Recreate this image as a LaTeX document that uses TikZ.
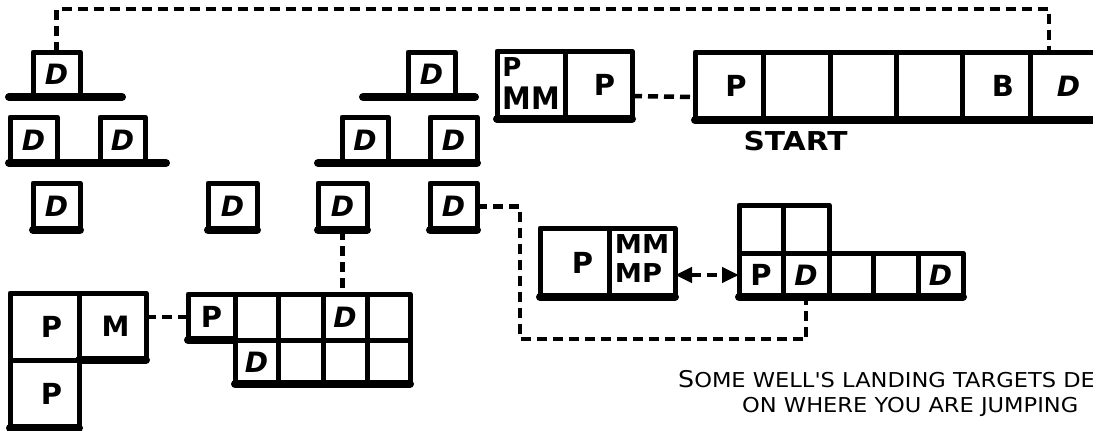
\documentclass[tikz,border=0pt]{standalone}
\usepackage{fontspec}
\usetikzlibrary{arrows.meta}
\newfontfamily\lblfont{DejaVu Sans}
\newfontfamily\capfont{DejaVu Sans}
\newcommand\LD{{\lblfont\fontsize{28}{28}\selectfont\bfseries\itshape D}}
\newcommand\LP{{\lblfont\fontsize{29}{29}\selectfont\bfseries P}}
\newcommand\LM{{\lblfont\fontsize{28}{28}\selectfont\bfseries M}}
\newcommand\LB{{\lblfont\fontsize{29}{29}\selectfont\bfseries B}}
\newcommand\sh[2]{\hspace*{#1pt}#2}
\newcommand\mkcell[6]{\node[cell, minimum width={(#4-#2)*1pt}, minimum height={(#5-#3)*1pt}] (#1) at ({(#2+#4)/2},{(#3+#5)/2}) {#6};}
\begin{document}
\begin{tikzpicture}[x=1pt,y=-1pt,
  cell/.style={draw, line width=5pt, inner sep=0pt, outer sep=0pt, line join=round},
  bar/.style={line width=8pt, line cap=round},
  dashline/.style={line width=4.5pt, dash pattern=on 10pt off 6pt}
]
\fill[white] (0,0) rectangle (1093,431);
\useasboundingbox (0,0) rectangle (1093,431);

% left pyramid
\mkcell{a1}{33}{52}{80}{97}{\LD}
\mkcell{a2}{10}{117}{57}{163}{\LD}
\mkcell{a3}{100}{117}{145}{163}{\LD}
\mkcell{a4}{33}{183}{80}{230}{\LD}
% right pyramid
\mkcell{b1}{408}{52}{455}{97}{\LD}
\mkcell{b2}{342}{117}{388}{163}{\LD}
\mkcell{b3}{430}{117}{477}{163}{\LD}
\mkcell{c1}{208}{183}{257}{230}{\LD}
\mkcell{c2}{318}{183}{367}{230}{\LD}
\mkcell{c3}{430}{183}{477}{230}{\LD}

% top row
\mkcell{e1}{497}{51}{565}{119}{\lblfont\bfseries\begin{tabular}{@{}l@{}}\fontsize{26}{26}\selectfont P\\[7pt]\fontsize{31}{31}\selectfont\scalebox{0.93}[1]{MM}\end{tabular}}
\mkcell{e2}{565}{51}{632}{119}{\sh{12}{\LP}}
\mkcell{f1}{695}{52}{763}{120}{\sh{14}{\LP}}
\mkcell{f2}{763}{52}{830}{120}{}
\mkcell{f3}{830}{52}{896}{120}{}
\mkcell{f4}{896}{52}{962}{120}{}
\mkcell{f5}{962}{52}{1030}{120}{\sh{14}{\LB}}
\mkcell{f6}{1030}{52}{1097}{120}{\sh{10}{\LD}}
\node[inner sep=0pt] (start) at (795.5,141.5) {\lblfont\bfseries\fontsize{26}{26}\selectfont\scalebox{1.14}[1]{START}};

% middle right
\mkcell{g1}{540}{228}{609}{297}{\sh{16}{\LP}}
\mkcell{g2}{609}{228}{675}{297}{\lblfont\bfseries\fontsize{26}{26}\selectfont\begin{tabular}{@{}l@{}}\scalebox{1.05}[1]{MM}\\[2pt]\scalebox{1.05}[1]{MP}\end{tabular}}
\mkcell{h1}{739}{205}{783}{253}{}
\mkcell{h2}{783}{205}{829}{253}{}
\mkcell{h3}{739}{253}{783}{297}{\LP}
\mkcell{h4}{783}{253}{829}{297}{\LD}
\mkcell{h5}{829}{253}{873}{297}{}
\mkcell{h6}{873}{253}{918}{297}{}
\mkcell{h7}{918}{253}{963}{297}{\LD}

% bottom left L
\mkcell{L1}{10}{293}{79}{360}{\sh{14}{\LP}}
\mkcell{L2}{79}{293}{146}{360}{\sh{6}{\LM}}
\mkcell{L3}{10}{360}{79}{428}{\sh{14}{\LP}}

% grid
\mkcell{k1}{188}{294}{235}{340}{\LP}
\mkcell{k2}{235}{294}{278}{340}{}
\mkcell{k3}{278}{294}{323}{340}{}
\mkcell{k4}{323}{294}{367}{340}{\LD}
\mkcell{k5}{367}{294}{410}{340}{}
\mkcell{k6}{235}{340}{278}{384}{\LD}
\mkcell{k7}{278}{340}{323}{384}{}
\mkcell{k8}{323}{340}{367}{384}{}
\mkcell{k9}{367}{340}{410}{384}{}

% thick bottoms / platforms
\draw[bar] (9,97) -- (122,97);
\draw[bar] (9,163) -- (166,163);
\draw[bar] (363,97) -- (475,97);
\draw[bar] (318,163) -- (477,163);
\foreach \n in {a4,c1,c2,c3,L2,L3,k1}{\draw[bar] (\n.south west) -- (\n.south east);}
\draw[bar] (e1.south west) -- (e2.south east);
\draw[bar] (f1.south west) -- (f6.south east);
\draw[bar] (g1.south west) -- (g2.south east);
\draw[bar] (h3.south west) -- (h7.south east);
\draw[bar] (k6.south west) -- (k9.south east);

% connectors
\coordinate (ytop) at (0,9);
\coordinate (j1) at (520,339);
\draw[dashline] (a1.north) -- (a1.north |- ytop) -| ([xshift=-14.5pt]f6.north);
\draw[dashline] ([yshift=-11pt]e2.east) -- ([yshift=-11pt]f1.west);
\draw[dashline] (c3.east) -| (j1) -| (h4.south);
\draw[dashline, {Triangle[length=17pt,width=15pt]}-{Triangle[length=17pt,width=15pt]}] (g2.east |- h3.west) -- (h3.west);
\draw[dashline] (c2.south) -- (c2.south |- k4.north);
\draw[dashline] (L2.east |- k1.west) -- (k1.west);

% caption
\node[anchor=base west, inner sep=0pt] (cap1) at (678,387) {\capfont\fontsize{20.5}{20.5}\selectfont\scalebox{1.1}[1]{{\fontsize{23}{23}\selectfont S}OME WELL'S LANDING TARGETS DEPEND}};
\node[anchor=base west, inner sep=0pt] (cap2) at (742,412) {\capfont\fontsize{20.5}{20.5}\selectfont\scalebox{1.1}[1]{ON WHERE YOU ARE JUMPING}};
\end{tikzpicture}
\end{document}
